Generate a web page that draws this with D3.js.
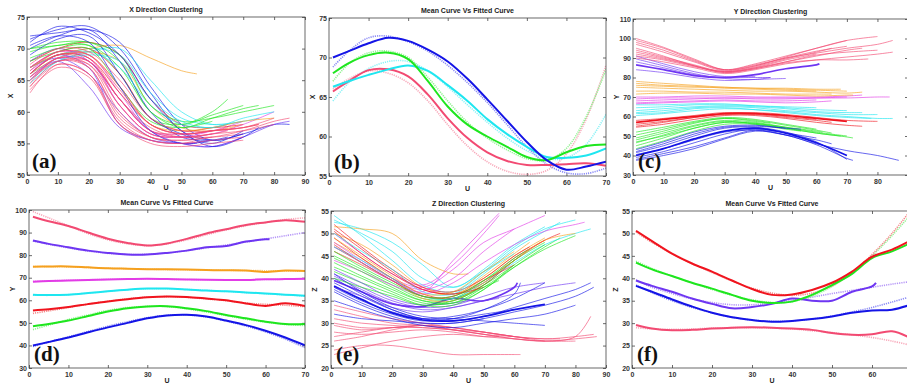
<!DOCTYPE html>
<html>
<head>
<meta charset="utf-8">
<script src="https://cdn.jsdelivr.net/npm/d3@7"></script>
<style>
  html, body { margin: 0; padding: 0; background: #fff; }
  svg { display: block; }
  .tick text { font-family: Arial, "Liberation Sans", sans-serif; font-size: 7px; font-weight: bold; fill: #333; }
  .tick line { stroke: #444; stroke-width: 0.8; }
</style>
</head>
<body>
<svg id="chart" width="907" height="383"></svg>
<script>
// cluster colours
const colors = {
  blue: '#1414e6', purple: '#6e36f2', orange: '#f5a01e', magenta: '#e23ce6',
  cyan: '#1ee6f0', red: '#f0141e', green: '#1ee61e', pink: '#f24a72'
};
const fitColors = {
  blue: '#8c8cf5', purple: '#b596f7', orange: '#f9c878', magenta: '#f09af2',
  cyan: '#8cf2f6', red: '#f58a8a', green: '#94f294', pink: '#f8aabb'
};

// spaghetti curves: first number = last U, then values at U = 1,10,20,... and the last value at last U
const spagGrid = [1, 10, 20, 30, 40, 50, 60, 70, 80];

// (a) X direction
const aBlue = [
  [70, 71.5, 73, 73.5, 70, 63, 57, 55.5, 56.5],
  [85, 72, 72.5, 73, 71, 64, 58, 55.5, 56.5, 58, 58],
  [60, 70, 72, 73, 68, 60, 56, 55.5],
  [70, 69, 71.5, 72, 66, 59, 56.5, 55, 57],
  [75, 71, 73.5, 72.5, 69, 62, 57, 54.5, 56, 57.5],
  [65, 70.5, 72, 71, 64, 57, 55, 55.5, 56]
];
const aPurple = [
  [70, 67, 68.5, 66, 60, 56, 55, 54.5, 56],
  [85, 68, 70, 68, 62, 57, 55, 54.5, 56, 58, 58.5],
  [60, 66, 69, 67, 58, 55.5, 55, 55.5],
  [55, 65.5, 68, 64, 57.5, 55.5, 55, 55]
];
const aGreen = [
  [70, 70, 70.5, 71, 68, 60, 58, 59.5, 61],
  [65, 69.5, 70.5, 70.5, 66, 59, 58, 60, 62],
  [75, 68.5, 70, 70.5, 67, 60, 57.5, 59, 60.5, 61],
  [80, 70, 71, 71, 69, 61, 58.5, 59, 60, 61],
  [60, 68, 69.5, 70, 64, 58.5, 57.5, 58.5]
];
const aCyan = [
  [70, 66, 68.5, 70, 69, 63, 59, 58, 58.5],
  [75, 64.5, 68, 69.5, 70, 65, 60, 58, 58.5, 59],
  [60, 67, 69, 69.5, 67, 61, 58, 57.5],
  [80, 65, 68, 69, 68, 62, 58.5, 57.5, 59, 60]
];
const aOrange = [
  [55, 67, 69, 70, 70.5, 68.5, 66.5, 66],
  [70, 66, 68.5, 69.5, 68, 61, 57.5, 57, 58],
  [80, 67, 69, 69, 64, 58, 57, 57.5, 58.5, 59]
];
const aMagenta = [
  [70, 66.5, 69, 69, 63, 57, 56.5, 57, 58.5],
  [80, 65, 68.5, 68, 62, 57, 56, 56.5, 58, 60],
  [60, 67, 69.5, 68.5, 61, 56.5, 56, 57]
];
const aRed = [
  [70, 68, 70, 71, 69, 62, 58, 57.5, 58],
  [65, 67, 69.5, 70, 66, 59, 57, 57.5, 58],
  [75, 66, 69, 68.5, 63, 58, 56.5, 57, 57.5, 58]
];
const aPink = [
  [70, 65, 68.5, 68, 61, 56.5, 56, 56, 56.5],
  [60, 64, 68, 67, 59, 56, 55.5, 56],
  [80, 66, 69, 68.5, 62, 57, 56, 56.5, 57, 58],
  [55, 63, 67.5, 66, 58, 55.5, 55, 55.5],
  [65, 67, 69.5, 69, 64, 58, 56.5, 57, 57.5],
  [85, 65.5, 68.5, 67.5, 60, 56, 55.5, 56, 57, 58.5, 59],
  [70, 64, 67.5, 66, 58.5, 55.5, 55, 55.5, 56],
  [50, 66, 69, 68, 62, 57, 56.5],
  [75, 67.5, 70, 69.5, 65, 59, 57, 57, 57.5, 58],
  [60, 65, 68, 67.5, 61, 56.5, 56, 56.5],
  [45, 64.5, 68.5, 67, 59.5, 56, 55.5],
  [70, 63.5, 67, 65.5, 58, 55, 54.5, 55, 55.5],
  [80, 66.5, 69.5, 69, 63.5, 58, 56.5, 57, 57.5, 59],
  [65, 65.5, 68, 68, 62, 57.5, 56, 56.5, 57]
];

// (c) Y direction
const cPink = [
  [70, 97, 93, 88, 83.5, 86, 90, 93.5, 96],
  [85, 99, 95, 89, 84, 86.5, 90, 92.5, 95, 97, 99],
  [60, 95, 91, 86, 82.5, 85, 89, 92],
  [75, 92, 89.5, 86, 83, 85, 88, 91, 94, 95],
  [80, 100, 95.5, 89.5, 84, 86, 90.5, 95, 99, 101],
  [65, 94, 90.5, 86.5, 83, 85.5, 89.5, 93, 95],
  [85, 90, 88, 85, 82, 84, 87, 89, 90.5, 92, 93],
  [70, 98, 94, 88.5, 84, 87, 91, 95, 99],
  [80, 93, 90, 86, 82.5, 84.5, 88, 91.5, 93, 94],
  [77, 91, 89, 85.5, 83, 84.5, 87.5, 89, 89, 89.5]
];
const cPurple = [
  [61, 86.5, 84, 81, 80, 81.5, 84.5, 86.5, 87],
  [45, 88, 85, 81.5, 80, 80, 80],
  [40, 91, 87, 83, 80.5, 80.5],
  [50, 84, 82.5, 80, 78.5, 79, 79.5],
  [45, 89.5, 86, 82, 79.5, 79, 80]
];
const cOrange = [
  [70, 78, 77, 76, 75, 74.5, 74, 73.5, 73],
  [75, 75, 74.5, 74, 73.5, 73, 73, 72.5, 72, 72.5],
  [65, 73, 73, 72.5, 72.5, 72, 71.5, 71.5, 71.5],
  [60, 77, 76, 75.5, 74.5, 74, 73.5, 73],
  [72, 71.5, 72, 72, 71.5, 71.5, 71, 70.5, 71, 71],
  [68, 76, 75.5, 75, 75, 74.5, 74.5, 74, 74]
];
const cMagenta = [
  [70, 69, 69.5, 69.5, 69.5, 69, 69, 69.5, 70],
  [84, 68, 68.5, 69, 69.5, 69.5, 69.5, 69.5, 69.5, 70, 70],
  [60, 67, 67.5, 68, 68.5, 68, 68, 68.5],
  [75, 70, 70, 70.5, 70.5, 70, 70, 70, 70.5, 71],
  [65, 66.5, 67, 67.5, 68, 67.5, 67, 67.5, 68]
];
const cCyan = [
  [80, 62, 63, 64.5, 65, 64.5, 63, 62, 61, 61],
  [70, 64.5, 65, 66, 66, 65.5, 64.5, 63.5, 63],
  [85, 60.5, 61.5, 63, 64, 63.5, 62.5, 61, 60, 59, 59],
  [60, 66, 66, 66.5, 66.5, 65.5, 65, 64.5],
  [75, 63, 64, 65, 65.5, 65, 64, 62.5, 62, 62],
  [78, 61.5, 62, 64, 64.5, 63.5, 62, 60.5, 59.5, 59]
];
const cRed = [
  [70, 57, 58.5, 60, 61.5, 61.5, 60.5, 59, 57.5],
  [80, 55, 57, 59.5, 61.5, 62, 61, 59.5, 58, 57.5],
  [60, 58, 59, 60.5, 62, 61.5, 60, 58.5],
  [75, 54.5, 56, 58.5, 60.5, 60.5, 59, 57, 55.5, 55],
  [65, 56, 57.5, 59.5, 61, 61, 59.5, 58, 57]
];
const cGreen = [
  [70, 48, 51.5, 55.5, 58, 57, 54.5, 52, 50],
  [65, 50.5, 53.5, 57, 59, 58, 55.5, 53, 51.5],
  [72, 45, 49, 54, 57, 56.5, 54, 51.5, 49.5, 49],
  [60, 52, 54.5, 57.5, 59.5, 58.5, 56, 53.5],
  [55, 46.5, 50.5, 55, 57.5, 56, 53.5, 52.5],
  [68, 43.5, 47.5, 52.5, 56, 56, 54, 51.5, 50],
  [45, 49, 52.5, 56.5, 59, 57.5, 56.5],
  [62, 47, 50, 54, 57, 56.5, 54.5, 52.5, 52]
];
const cBlue = [
  [70, 40, 43.5, 48.5, 52.5, 54, 51.5, 46.5, 40],
  [87, 38, 41, 44.5, 49, 53, 50.5, 46, 42.5, 40, 37.5],
  [70, 41.5, 45, 50, 54, 54.5, 52, 47, 38],
  [60, 39, 42, 46.5, 51, 53.5, 51.5, 49],
  [72, 37.5, 40, 43.5, 48.5, 52.5, 50.5, 45.5, 38.5, 37.5],
  [50, 42, 46, 51, 54.5, 55, 54],
  [65, 40.5, 43.5, 48, 52, 53, 50.5, 48, 46],
  [55, 43, 47, 52, 55, 55.5, 54, 53.5]
];

// (e) Z direction
const eRed = [
  [70, 50.5, 45.5, 41, 37.5, 36.5, 39, 44.5, 48.5],
  [65, 52, 47, 42, 38, 37, 40, 45, 47],
  [75, 49, 44.5, 40, 36.5, 35.5, 38.5, 44, 48.5, 50],
  [60, 47.5, 43.5, 39.5, 36, 36, 39.5, 43],
  [50, 51, 46.5, 41.5, 37.5, 36.5, 38]
];
const eOrange = [
  [70, 50, 47.5, 43, 38, 36.5, 40, 45, 49],
  [65, 48, 44.5, 40, 36, 36, 40.5, 45.5, 48],
  [45, 51.5, 51, 50, 44, 41, 41],
  [80, 46, 43, 39.5, 35.5, 35, 39, 44, 48.5, 50],
  [60, 49, 45, 40.5, 36.5, 37, 41.5, 46]
];
const eCyan = [
  [80, 54, 49.5, 44, 38.5, 37, 41.5, 47, 51, 53],
  [70, 52.5, 51, 48, 43, 38, 42, 47.5, 51.5],
  [75, 50, 46, 42, 37, 36.5, 41, 46.5, 50.5, 52.5],
  [85, 47, 44, 40, 36, 35.5, 39, 43.5, 47.5, 50, 51],
  [60, 53, 50, 46, 40, 38, 41.5, 45.5]
];
const eMagenta = [
  [55, 50, 45.5, 41, 38.5, 43, 50, 54],
  [70, 48, 44, 40, 38, 42, 48, 51, 54],
  [60, 46, 43, 39.5, 37.5, 40, 46, 51],
  [83, 44, 41.5, 38.5, 36.5, 39, 43.5, 47.5, 50.5, 52, 52.5],
  [55, 47, 43.5, 39.5, 37, 44, 51, 54.5]
];
const eGreen = [
  [70, 43.5, 40.5, 37.5, 35, 35, 38.5, 44, 48],
  [65, 45, 42, 38.5, 35.5, 35.5, 39.5, 44.5, 46.5],
  [75, 41.5, 39, 36.5, 34, 34, 37.5, 42.5, 47, 49],
  [60, 47, 43.5, 39.5, 36, 35.5, 38.5, 43],
  [80, 42.5, 40, 37, 34.5, 34.5, 38, 42.5, 46.5, 49.5],
  [70, 44.5, 41.5, 38, 35, 34.5, 37.5, 43, 47.5],
  [55, 40, 38, 36, 34, 35, 38, 39.5],
  [62, 46, 42.5, 39, 36, 36, 39.5, 44, 45]
];
const ePurple = [
  [61, 39.5, 37, 34.3, 33.7, 35.5, 35, 38, 39],
  [70, 41, 38, 35, 33.5, 34, 36, 38, 39],
  [55, 38, 36, 33.5, 32.5, 33.5, 35, 35.5],
  [80, 40.5, 37.5, 34.5, 33, 33.5, 35, 36.5, 38, 39],
  [45, 42, 39, 35.5, 34, 34.5, 35]
];
const eBlue = [
  [70, 38.3, 35.3, 32.3, 30.7, 30.5, 31.5, 33, 34.2],
  [86, 37, 34, 31.5, 30, 30, 31, 32.5, 34, 36, 38],
  [85, 39, 36, 33, 31, 30.5, 31.5, 33.5, 35.5, 37.5, 39],
  [70, 38, 35, 32.5, 31, 31.5, 33, 35.5, 39],
  [60, 40, 36.5, 33, 31, 31, 32, 33],
  [62, 37.5, 34.5, 32, 30.5, 31, 33, 36.5, 39],
  [70, 41, 37, 33.5, 31.5, 31, 30.5, 30, 29.5],
  [50, 32, 31, 30.5, 30, 30, 31],
  [80, 35, 33, 31, 29.5, 29, 30, 31, 32, 34]
];
const ePink = [
  [86, 29.5, 28.5, 29, 29, 28.5, 28, 27, 26.5, 27, 27.5],
  [85, 33, 31.5, 30, 29.5, 28.5, 27.5, 26.5, 26, 27, 31.5],
  [60, 27, 28, 29, 29.5, 28.5, 27.5, 27],
  [62, 24, 25, 25, 24, 23, 23, 23, 23],
  [70, 30, 29, 29, 29.5, 29, 28, 27, 26],
  [80, 31, 30, 29.5, 29, 28.5, 27.5, 26.5, 26, 26],
  [75, 26, 27, 28.5, 29.5, 29, 28, 27, 26.5, 26.5],
  [65, 34, 32.5, 31, 30, 29, 28, 27, 26.5],
  [87, 28, 27.5, 28, 28.5, 28, 27, 26.5, 26, 26.5, 27],
  [55, 23, 24.5, 26, 27, 27.5, 27, 27]
];

// mean / fitted curves: values at U = 1,5,10,...,65 and the last one at the end U
const meanGrid = [1, 5, 10, 15, 20, 25, 30, 35, 40, 45, 50, 55, 60, 65, 70];
const bBlueMean  = [70, 70.8, 71.8, 72.5, 72.1, 71, 69.5, 67.3, 64.7, 62, 59.3, 57, 55.8, 56.2, 56.8];
const bBlueFit   = [68.8, 70.8, 72.5, 72.7, 72, 70.8, 69, 66.8, 64.3, 61.5, 58.7, 56.5, 55.4, 55.3, 56];
const bGreenMean = [68, 69.3, 70.3, 70.6, 69.8, 67, 63.8, 61.5, 60, 58.7, 57.4, 57, 58, 58.8, 59];
const bGreenFit  = [67, 69.2, 70.6, 70.8, 70, 67.5, 64.5, 61.8, 59.8, 58.3, 57.2, 57, 58.5, 62.5, 68.5];
const bCyanMean  = [66.3, 67, 67.8, 68.5, 69, 68.3, 66.5, 64.5, 62.2, 60.3, 58.7, 57.4, 57.3, 57.6, 58.5];
const bCyanFit   = [64.5, 66.8, 68.6, 69.5, 69.5, 68.3, 66.3, 64, 61.8, 59.8, 58.2, 57.2, 57.3, 59, 62.8];
const bPinkMean  = [65.7, 67, 68.4, 68.5, 67.6, 65.3, 62.3, 59.8, 58, 56.9, 56.4, 56.4, 56.5, 56.6, 56.3];
const bPinkFit   = [66, 67.3, 68.3, 68, 66.8, 64.5, 61.5, 58.8, 56.8, 55.6, 55.2, 55.7, 57.8, 62.2, 69];

const dPinkMean    = [97, 95, 92.9, 90, 87.3, 85.4, 84.3, 85.2, 87.2, 89.6, 91.5, 93.4, 94.5, 95.5, 94.8];
const dPinkFit     = [99.3, 96.5, 93, 89.5, 86.8, 85, 84.2, 85, 86.8, 89, 91.2, 93, 94.5, 95.8, 96.5];
const dPurpleMean  = [86.5, 85, 83.5, 82, 81, 80.3, 80.3, 81, 82, 83.5, 84, 86, 87, 87];
const dPurpleFit   = [86.3, 84.8, 83.2, 81.8, 80.8, 80.3, 80.4, 81, 82, 83.2, 84.5, 85.8, 87.2, 88.6, 90];
const dOrangeMean  = [74.9, 75, 75, 74.6, 74.2, 74, 73.8, 73.7, 73.6, 73.4, 73.3, 73.2, 72.5, 73.2, 73];
const dOrangeFit   = [75, 74.9, 74.8, 74.5, 74.2, 74, 73.8, 73.6, 73.5, 73.4, 73.3, 73.2, 73.1, 73, 72.9];
const dMagentaMean = [68.2, 68.5, 68.8, 69, 69.2, 69.4, 69.5, 69.4, 69.2, 69.1, 69, 69, 69.3, 69.4, 69.5];
const dMagentaFit  = [68.4, 68.6, 68.9, 69.1, 69.3, 69.4, 69.4, 69.3, 69.2, 69.1, 69.1, 69.1, 69.2, 69.3, 69.5];
const dCyanMean    = [62.5, 62.3, 62.5, 63.2, 64, 64.7, 65.2, 65.2, 64.8, 64.3, 64, 63.5, 63, 62.5, 62];
const dCyanFit     = [62.3, 62.2, 62.5, 63.2, 64, 64.7, 65.1, 65.1, 64.8, 64.4, 63.9, 63.4, 62.9, 62.4, 61.8];
const dRedMean     = [55.5, 56, 57, 58.3, 59.5, 60.5, 61.3, 61.7, 61.5, 60.8, 60, 58.6, 57.5, 58.7, 57.5];
const dRedFit      = [54.2, 55.3, 56.8, 58.3, 59.6, 60.7, 61.4, 61.6, 61.3, 60.6, 59.8, 58.8, 58.2, 57.8, 57.2];
const dGreenMean   = [48.5, 49.5, 51, 53, 55, 56.5, 57.3, 57.4, 56.5, 55.2, 53.5, 52, 50.5, 49.5, 49.5];
const dGreenFit    = [47, 49, 51.5, 53.5, 55.5, 56.8, 57.3, 57.2, 56.2, 54.8, 53.2, 51.6, 50.3, 49.3, 48.8];
const dBlueMean    = [40, 41.5, 43.5, 45.8, 48, 50, 52, 53.3, 53.6, 52.8, 51, 49, 46.5, 43.5, 40];
const dBlueFit     = [39.5, 41.5, 43.8, 46.2, 48.5, 50.5, 52.3, 53.4, 53.5, 52.6, 50.8, 48.6, 46, 42.8, 39];

const fRedMean    = [50.6, 48.3, 45.5, 43.3, 41.5, 39.5, 37.6, 36.3, 36.4, 37.4, 39, 41.5, 44.8, 46.4, 48.6];
const fRedFit     = [50.3, 48, 45.5, 43.3, 41.3, 39.4, 37.8, 36.7, 36.2, 36.7, 38.3, 41.2, 45.3, 50, 55.5];
const fGreenMean  = [43.5, 42, 40.5, 39, 37.7, 36.3, 35, 34.5, 34.8, 36.3, 38.5, 41, 44.5, 46, 48];
const fGreenFit   = [43.8, 42.2, 40.5, 39, 37.5, 36.2, 35.2, 34.6, 34.8, 36, 38.2, 41.2, 45, 49.5, 54.5];
const fPurpleMean = [39.5, 38.3, 37, 35.5, 34.3, 33.3, 33.6, 34.3, 35.5, 35, 35, 37, 38.2, 39];
const fPurpleFit  = [39.6, 38, 36.6, 35.4, 34.6, 34.1, 34.1, 34.5, 35.1, 35.8, 36.6, 37.3, 38, 38.7, 39.3];
const fBlueMean   = [38.3, 37, 35.3, 33.7, 32.3, 31.3, 30.7, 30.3, 30.5, 30.9, 31.5, 32.3, 32.8, 33, 34.2];
const fBlueFit    = [38.5, 36.8, 35, 33.5, 32.3, 31.3, 30.7, 30.4, 30.5, 30.9, 31.6, 32.5, 33.5, 34.7, 36];
const fPinkMean   = [29.6, 28.8, 28.4, 28.5, 28.8, 29, 29.1, 29, 28.8, 28.5, 27.8, 27.4, 27.5, 28.2, 26.5];
const fPinkFit    = [29, 28.7, 28.6, 28.7, 28.9, 29, 29, 28.9, 28.7, 28.3, 27.9, 27.4, 26.8, 26, 25];

const svg = d3.select('#chart');
svg.append('rect').attr('width', 907).attr('height', 383).attr('fill', '#fff');

function spagPoints(c) {
  const end = c[0], vals = c.slice(1);
  const pts = vals.slice(0, -1).map((v, i) => [spagGrid[i], v]);
  pts.push([end, vals[vals.length - 1]]);
  return pts;
}
function meanPoints(vals, end = 70) {
  const pts = vals.slice(0, -1).map((v, i) => [meanGrid[i], v]);
  pts.push([end, vals[vals.length - 1]]);
  return pts;
}

let clipId = 0;
function panel(p) {
  const x = d3.scaleLinear().domain(p.xDomain).range([p.left, p.right]);
  const y = d3.scaleLinear().domain(p.yDomain).range([p.bottom, p.top]);
  const g = svg.append('g');
  const id = 'clip' + (clipId++);
  g.append('clipPath').attr('id', id).append('rect')
    .attr('x', p.left).attr('y', p.top)
    .attr('width', p.right - p.left).attr('height', p.bottom - p.top);

  // ticks whose labels would fall off the page are left out (as in the original crop)
  const xTicks = d3.range(p.xDomain[0], p.xDomain[1] + 1, 10).filter(t => x(t) <= 903);
  const yTicks = d3.range(p.yDomain[0], p.yDomain[1] + 0.1, p.yStep);

  g.append('g').attr('transform', `translate(0,${p.bottom})`)
    .call(d3.axisBottom(x).tickValues(xTicks).tickSizeInner(-3).tickSizeOuter(0).tickPadding(4))
    .call(a => a.select('.domain').remove());
  g.append('g').attr('transform', `translate(0,${p.top})`)
    .call(d3.axisTop(x).tickValues(xTicks).tickSizeInner(-3).tickSizeOuter(0).tickFormat(''))
    .call(a => a.select('.domain').remove());
  g.append('g').attr('transform', `translate(${p.left},0)`)
    .call(d3.axisLeft(y).tickValues(yTicks).tickSizeInner(-3).tickSizeOuter(0).tickPadding(2))
    .call(a => a.select('.domain').remove());
  g.append('g').attr('transform', `translate(${p.right},0)`)
    .call(d3.axisRight(y).tickValues(yTicks).tickSizeInner(-3).tickSizeOuter(0).tickFormat(''))
    .call(a => a.select('.domain').remove());

  const plot = g.append('g').attr('clip-path', `url(#${id})`);
  const line = d3.line().x(d => x(d[0])).y(d => y(d[1])).curve(d3.curveCatmullRom.alpha(0.5));

  if (p.clusters) {
    // interleave clusters so colours mix like the original
    const maxN = d3.max(p.clusters, c => c.curves.length);
    for (let i = 0; i < maxN; i++) {
      p.clusters.forEach(c => {
        if (i < c.curves.length) {
          plot.append('path').attr('d', line(spagPoints(c.curves[i])))
            .attr('fill', 'none').attr('stroke', colors[c.color])
            .attr('stroke-width', (c.thick && i === 0) ? 1.7 : 0.9)
            .attr('stroke-opacity', (c.thick && i === 0) ? 1 : 0.72);
        }
      });
    }
  }
  if (p.means) {
    p.means.forEach(m => {
      plot.append('path').attr('d', line(meanPoints(m.fit)))
        .attr('fill', 'none').attr('stroke', fitColors[m.color])
        .attr('stroke-width', 1.6).attr('stroke-dasharray', '1.2,1');
    });
    p.means.forEach(m => {
      plot.append('path').attr('d', line(meanPoints(m.mean, m.end || 70)))
        .attr('fill', 'none').attr('stroke', colors[m.color])
        .attr('stroke-width', 2);
    });
  }

  g.append('rect').attr('x', p.left).attr('y', p.top)
    .attr('width', p.right - p.left).attr('height', p.bottom - p.top)
    .attr('fill', 'none').attr('stroke', '#444').attr('stroke-width', 0.8);

  g.append('text').attr('x', (p.left + p.right) / 2).attr('y', p.top - 5)
    .attr('text-anchor', 'middle')
    .style('font-family', 'Arial, "Liberation Sans", sans-serif')
    .style('font-size', '7px').style('font-weight', 'bold').style('fill', '#222')
    .text(p.title);
  g.append('text').attr('transform', `translate(${p.left - 14},${(p.top + p.bottom) / 2}) rotate(-90)`)
    .attr('text-anchor', 'middle')
    .style('font-family', 'Arial, "Liberation Sans", sans-serif')
    .style('font-size', '7px').style('font-weight', 'bold').style('fill', '#222')
    .text(p.yLabel);
  g.append('text').attr('x', (p.left + p.right) / 2).attr('y', p.bottom + 15)
    .attr('text-anchor', 'middle')
    .style('font-family', 'Arial, "Liberation Sans", sans-serif')
    .style('font-size', '7px').style('font-weight', 'bold').style('fill', '#222')
    .text('U');
  g.append('text').attr('x', p.left + 5).attr('y', p.bottom - 7)
    .style('font-family', '"Liberation Serif", "DejaVu Serif", serif')
    .style('font-size', '21px').style('font-weight', 'bold').style('fill', '#111')
    .text(p.letter);
}

panel({
  left: 27, right: 305, top: 17, bottom: 175, xDomain: [0, 90], yDomain: [50, 75], yStep: 5,
  title: 'X Direction Clustering', yLabel: 'X', letter: '(a)',
  clusters: [
    { color: 'blue', curves: aBlue }, { color: 'purple', curves: aPurple },
    { color: 'green', curves: aGreen }, { color: 'cyan', curves: aCyan },
    { color: 'orange', curves: aOrange }, { color: 'magenta', curves: aMagenta },
    { color: 'red', curves: aRed }, { color: 'pink', curves: aPink }
  ]
});
panel({
  left: 329, right: 606, top: 18, bottom: 176, xDomain: [0, 70], yDomain: [55, 75], yStep: 5,
  title: 'Mean Curve Vs Fitted Curve', yLabel: 'X', letter: '(b)',
  means: [
    { color: 'pink', mean: bPinkMean, fit: bPinkFit },
    { color: 'cyan', mean: bCyanMean, fit: bCyanFit },
    { color: 'green', mean: bGreenMean, fit: bGreenFit },
    { color: 'blue', mean: bBlueMean, fit: bBlueFit }
  ]
});
panel({
  left: 633, right: 908, top: 19, bottom: 175, xDomain: [0, 90], yDomain: [30, 110], yStep: 10,
  title: 'Y Direction Clustering', yLabel: 'Y', letter: '(c)',
  clusters: [
    { color: 'pink', curves: cPink }, { color: 'purple', curves: cPurple, thick: true },
    { color: 'orange', curves: cOrange }, { color: 'magenta', curves: cMagenta },
    { color: 'cyan', curves: cCyan }, { color: 'red', curves: cRed, thick: true },
    { color: 'green', curves: cGreen }, { color: 'blue', curves: cBlue, thick: true }
  ]
});
panel({
  left: 29, right: 305, top: 210, bottom: 368, xDomain: [0, 70], yDomain: [30, 100], yStep: 10,
  title: 'Mean Curve Vs Fitted Curve', yLabel: 'Y', letter: '(d)',
  means: [
    { color: 'pink', mean: dPinkMean, fit: dPinkFit },
    { color: 'purple', mean: dPurpleMean, fit: dPurpleFit, end: 61 },
    { color: 'orange', mean: dOrangeMean, fit: dOrangeFit },
    { color: 'magenta', mean: dMagentaMean, fit: dMagentaFit },
    { color: 'cyan', mean: dCyanMean, fit: dCyanFit },
    { color: 'red', mean: dRedMean, fit: dRedFit },
    { color: 'green', mean: dGreenMean, fit: dGreenFit },
    { color: 'blue', mean: dBlueMean, fit: dBlueFit }
  ]
});
panel({
  left: 331, right: 606, top: 211, bottom: 368, xDomain: [0, 90], yDomain: [20, 55], yStep: 5,
  title: 'Z Direction Clustering', yLabel: 'Z', letter: '(e)',
  clusters: [
    { color: 'pink', curves: ePink }, { color: 'blue', curves: eBlue, thick: true },
    { color: 'purple', curves: ePurple, thick: true }, { color: 'green', curves: eGreen },
    { color: 'cyan', curves: eCyan }, { color: 'orange', curves: eOrange },
    { color: 'magenta', curves: eMagenta }, { color: 'red', curves: eRed }
  ]
});
panel({
  left: 632, right: 912, top: 211, bottom: 368, xDomain: [0, 70], yDomain: [20, 55], yStep: 5,
  title: 'Mean Curve Vs Fitted Curve', yLabel: 'Z', letter: '(f)',
  means: [
    { color: 'pink', mean: fPinkMean, fit: fPinkFit },
    { color: 'blue', mean: fBlueMean, fit: fBlueFit },
    { color: 'purple', mean: fPurpleMean, fit: fPurpleFit, end: 61 },
    { color: 'green', mean: fGreenMean, fit: fGreenFit },
    { color: 'red', mean: fRedMean, fit: fRedFit }
  ]
});
</script>
</body>
</html>
